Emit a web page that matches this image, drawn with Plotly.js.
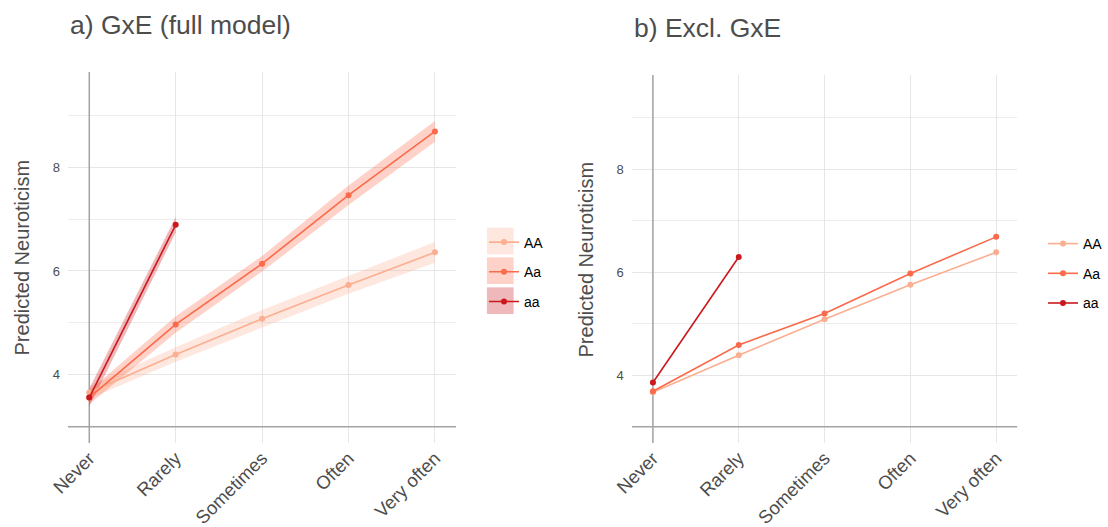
<!DOCTYPE html>
<html>
<head>
<meta charset="utf-8">
<script src="https://cdn.plot.ly/plotly-3.0.1.min.js"></script>
<style>
  html, body { margin: 0; padding: 0; background: #ffffff; }
  #chart { width: 1108px; height: 527px; }
</style>
</head>
<body>
<div id="chart"></div>
<script>
// Frequency categories shared by both panels
const categories = ['Never', 'Rarely', 'Sometimes', 'Often', 'Very often'];
const genotypes = ['AA', 'Aa', 'aa'];
const yTicks = [4, 6, 8];
const yMinorTicks = [3, 5, 7, 9];
const baselineY = 3;

// a) full model: predicted neuroticism with 95% interval
const fullAA = [3.66, 4.39, 5.08, 5.73, 6.36];
const fullAALow = [3.54, 4.25, 4.91, 5.56, 6.16];
const fullAAHigh = [3.78, 4.53, 5.25, 5.90, 6.56];

const fullAa = [3.56, 4.97, 6.14, 7.46, 8.69];
const fullAaLow = [3.43, 4.81, 5.99, 7.27, 8.49];
const fullAaHigh = [3.69, 5.13, 6.29, 7.65, 8.89];

const fullaa = [3.56, 6.89];
const fullaaLow = [3.39, 6.74];
const fullaaHigh = [3.73, 7.04];

// b) model without the GxE term
const exclAA = [3.67, 4.39, 5.09, 5.76, 6.39];
const exclAa = [3.69, 4.59, 5.20, 5.98, 6.69];
const exclaa = [3.86, 6.30];

const colors = { AA: '#FCAE91', Aa: '#FB6A4A', aa: '#CB181D' };
const ribbonAlpha = 0.3;

const W = 1108, H = 527;
const px = v => v / W;
const py = v => 1 - v / H;
const xRange = [-0.247, 4.247];
const yRange = [2.685, 9.835];

function rgba(hex, a) {
  const n = parseInt(hex.slice(1), 16);
  return `rgba(${(n >> 16) & 255},${(n >> 8) & 255},${n & 255},${a})`;
}

const fullSeries = {
  AA: { y: fullAA, lo: fullAALow, hi: fullAAHigh },
  Aa: { y: fullAa, lo: fullAaLow, hi: fullAaHigh },
  aa: { y: fullaa, lo: fullaaLow, hi: fullaaHigh }
};
const exclSeries = { AA: exclAA, Aa: exclAa, aa: exclaa };

const traces = [];

// Ribbons first (lower bound, then upper bound filled back to it)
genotypes.forEach(g => {
  const s = fullSeries[g];
  const xs = categories.slice(0, s.y.length);
  traces.push({
    x: xs, y: s.lo, xaxis: 'x', yaxis: 'y', type: 'scatter', mode: 'lines',
    line: { width: 0, color: colors[g] }, showlegend: false, hoverinfo: 'skip'
  });
  traces.push({
    x: xs, y: s.hi, xaxis: 'x', yaxis: 'y', type: 'scatter', mode: 'lines',
    line: { width: 0, color: colors[g] }, fill: 'tonexty',
    fillcolor: rgba(colors[g], ribbonAlpha), showlegend: false, hoverinfo: 'skip'
  });
});

// Predicted lines with points, panel a
genotypes.forEach(g => {
  const s = fullSeries[g];
  traces.push({
    x: categories.slice(0, s.y.length), y: s.y, name: g,
    xaxis: 'x', yaxis: 'y', type: 'scatter', mode: 'lines+markers',
    line: { color: colors[g], width: 1.6 },
    marker: { color: colors[g], size: 6 },
    legend: 'legend', legendgroup: 'a' + g
  });
});

// Predicted lines with points, panel b
genotypes.forEach(g => {
  const ys = exclSeries[g];
  traces.push({
    x: categories.slice(0, ys.length), y: ys, name: g,
    xaxis: 'x2', yaxis: 'y2', type: 'scatter', mode: 'lines+markers',
    line: { color: colors[g], width: 1.6 },
    marker: { color: colors[g], size: 6 },
    legend: 'legend2', legendgroup: 'b' + g
  });
});

const gridColor = '#E6E6E6';
const minorGridColor = '#ECECEC';
const refLine = { color: '#A3A3A3', width: 1.5 };
const textGrey = '#4D4D4D';
const fontFamily = 'Liberation Sans, Arial, sans-serif';

function xAxis(domain) {
  return {
    domain: domain, type: 'category', categoryorder: 'array', categoryarray: categories,
    range: xRange, showgrid: true, gridcolor: gridColor, gridwidth: 1,
    zeroline: false, showline: false, ticks: '', tickangle: -45,
    tickfont: { size: 18.5, color: textGrey, family: fontFamily }, fixedrange: true
  };
}
function yAxis(domain) {
  return {
    domain: domain, range: yRange, tickmode: 'array', tickvals: yTicks,
    ticktext: yTicks.map(String), showgrid: true, gridcolor: gridColor, gridwidth: 1,
    minor: { tickmode: 'array', tickvals: yMinorTicks, showgrid: true, gridcolor: minorGridColor, gridwidth: 1 },
    zeroline: false, showline: false, ticks: '', ticklabelstandoff: 7,
    tickfont: { size: 13, color: textGrey, family: fontFamily }, fixedrange: true
  };
}

// Reference lines: a vertical rule at the first category and a horizontal rule at the baseline
function refShapes(xr, yr) {
  return [
    { type: 'line', layer: 'between', xref: xr, x0: 0, x1: 0,
      yref: yr, y0: yRange[0], y1: yRange[1], line: refLine },
    { type: 'line', layer: 'between', xref: xr, x0: xRange[0], x1: xRange[1],
      yref: yr, y0: baselineY, y1: baselineY, line: refLine }
  ];
}

// Filled key boxes behind the panel a legend entries
const keyBox = { cx: 500.7, size: 26.7, centers: [241, 270.7, 300.7] };
const keyShapes = genotypes.map((g, i) => ({
  type: 'rect', layer: 'above', xref: 'paper', yref: 'paper',
  x0: px(keyBox.cx - keyBox.size / 2), x1: px(keyBox.cx + keyBox.size / 2),
  y0: py(keyBox.centers[i] + keyBox.size / 2), y1: py(keyBox.centers[i] - keyBox.size / 2),
  line: { width: 0 }, fillcolor: rgba(colors[g], ribbonAlpha)
}));

const legendBase = {
  orientation: 'v', xanchor: 'left', yanchor: 'top', bgcolor: 'rgba(0,0,0,0)',
  borderwidth: 0, traceorder: 'grouped', tracegroupgap: 8.5,
  font: { size: 14, color: '#000000', family: fontFamily }, itemclick: false
};

const layout = {
  width: W, height: H, autosize: false,
  margin: { l: 0, r: 0, t: 0, b: 0, pad: 0 },
  paper_bgcolor: '#FFFFFF', plot_bgcolor: '#FFFFFF',
  font: { family: fontFamily, color: textGrey },
  xaxis: xAxis([px(68), px(456.7)]),
  yaxis: yAxis([py(443), py(72)]),
  xaxis2: Object.assign(xAxis([px(632.3), px(1018.3)]), { anchor: 'y2' }),
  yaxis2: Object.assign(yAxis([py(443), py(75)]), { anchor: 'x2' }),
  showlegend: true,
  legend: Object.assign({}, legendBase, { x: px(484), y: py(226.5) }),
  legend2: Object.assign({}, legendBase, { x: px(1044), y: py(228) }),
  shapes: refShapes('x', 'y').concat(refShapes('x2', 'y2')).concat(keyShapes),
  annotations: [
    { text: 'a) GxE (full model)', xref: 'paper', yref: 'paper', x: px(68.5), y: py(25),
      xanchor: 'left', yanchor: 'middle', showarrow: false,
      font: { size: 26.5, color: textGrey, family: fontFamily } },
    { text: 'b) Excl. GxE', xref: 'paper', yref: 'paper', x: px(633), y: py(28),
      xanchor: 'left', yanchor: 'middle', showarrow: false,
      font: { size: 26.5, color: textGrey, family: fontFamily } },
    { text: 'Predicted Neuroticism', xref: 'paper', yref: 'paper', x: px(23), y: py(257.5),
      xanchor: 'center', yanchor: 'middle', textangle: -90, showarrow: false,
      font: { size: 20, color: textGrey, family: fontFamily } },
    { text: 'Predicted Neuroticism', xref: 'paper', yref: 'paper', x: px(587), y: py(259),
      xanchor: 'center', yanchor: 'middle', textangle: -90, showarrow: false,
      font: { size: 20, color: textGrey, family: fontFamily } }
  ]
};

Plotly.newPlot('chart', traces, layout, { staticPlot: true, displayModeBar: false });
</script>
</body>
</html>
